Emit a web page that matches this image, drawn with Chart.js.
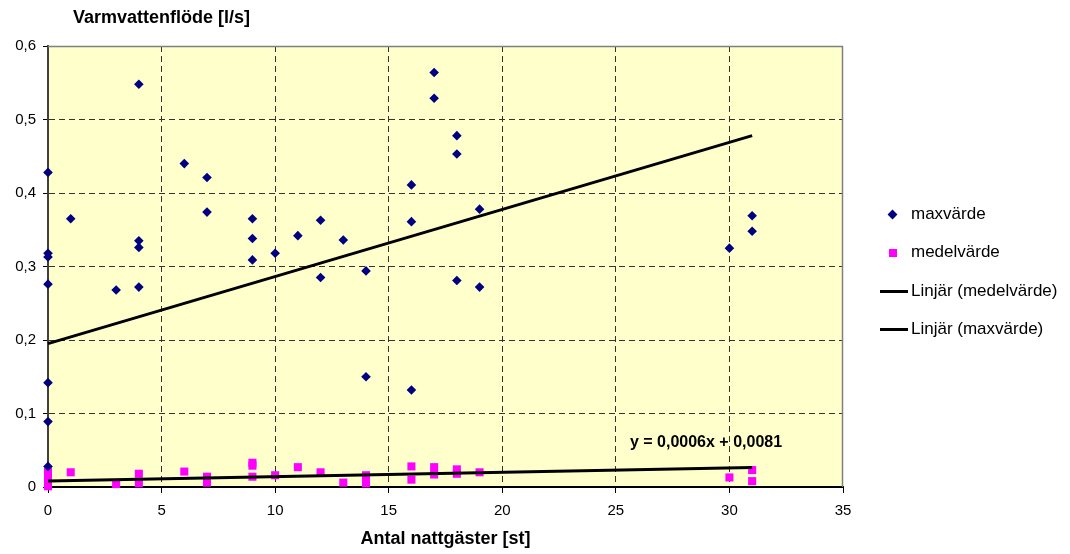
<!DOCTYPE html>
<html>
<head>
<meta charset="utf-8">
<script src="https://cdn.jsdelivr.net/npm/chart.js@4"></script>
<style>
  body { margin: 0; background: #fff; }
  #wrap { position: relative; width: 1070px; height: 554px; font-family: "Liberation Sans", Arial, sans-serif; }
  canvas { position: absolute; left: 0; top: 0; }
  .leg { position: absolute; left: 911px; font-size: 17px; color: #000; line-height: 20px; white-space: nowrap; }
  .mk { position: absolute; }
</style>
</head>
<body>
<div id="wrap">
  <canvas id="chart" width="1070" height="554"></canvas>
  <div class="mk" style="left:889px;top:211px;width:7px;height:7px;background:#000080;transform:rotate(45deg);"></div>
  <div class="leg" style="top:204px;">maxvärde</div>
  <div class="mk" style="left:889px;top:249px;width:8px;height:8px;background:#ff00ff;"></div>
  <div class="leg" style="top:242px;">medelvärde</div>
  <div class="mk" style="left:880px;top:290px;width:28px;height:3px;background:#000;"></div>
  <div class="leg" style="top:281px;">Linjär (medelvärde)</div>
  <div class="mk" style="left:880px;top:328px;width:28px;height:3px;background:#000;"></div>
  <div class="leg" style="top:319px;">Linjär (maxvärde)</div>
</div>
<script>
  // maxvärde (diamonds)
  const maxX = [0, 0, 0, 0, 0, 0, 0, 1, 3, 4, 4, 4, 4, 6, 7, 7, 9, 9, 9, 10, 11, 12, 12, 13, 14, 14, 16, 16, 16, 17, 17, 18, 18, 18, 19, 19, 30, 31, 31];
  const maxY = [0.428, 0.318, 0.313, 0.276, 0.142, 0.089, 0.028, 0.365, 0.268, 0.548, 0.335, 0.326, 0.272, 0.440, 0.421, 0.374, 0.365, 0.338, 0.309, 0.318, 0.342, 0.363, 0.285, 0.336, 0.294, 0.150, 0.411, 0.361, 0.132, 0.564, 0.529, 0.478, 0.453, 0.281, 0.378, 0.272, 0.325, 0.369, 0.348];

  // medelvärde (squares)
  const medelX = [0, 0, 0, 0, 1, 3, 4, 4, 6, 7, 7, 9, 9, 9, 10, 11, 12, 13, 14, 14, 14, 16, 16, 17, 17, 18, 18, 19, 30, 31, 31];
  const medelY = [0.021, 0.014, 0.007, 0.001, 0.020, 0.004, 0.018, 0.005, 0.021, 0.014, 0.006, 0.033, 0.029, 0.014, 0.016, 0.027, 0.020, 0.006, 0.016, 0.010, 0.005, 0.028, 0.010, 0.027, 0.017, 0.024, 0.018, 0.020, 0.013, 0.023, 0.008];

  // trendlines (endpoints)
  const trendX = [0, 31];
  const maxTrendY = [0.195, 0.478];
  const medelTrendY = [0.0081, 0.0267];
  const equationText = "y = 0,0006x + 0,0081";

  const yTitle = "Varmvattenflöde [l/s]";
  const xTitle = "Antal nattgäster [st]";

  const FONT = "'Liberation Sans', Arial, sans-serif";

  function pts(xs, ys) {
    return xs.map((x, i) => ({ x: x, y: ys[i] }));
  }

  const plotDecor = {
    id: "plotDecor",
    beforeDraw(chart) {
      const a = chart.chartArea;
      const ctx = chart.ctx;
      ctx.save();
      ctx.fillStyle = "#ffffcc";
      ctx.fillRect(a.left, a.top, a.right - a.left, a.bottom - a.top);
      ctx.restore();
    },
    afterDraw(chart) {
      const a = chart.chartArea;
      const ctx = chart.ctx;
      ctx.save();
      ctx.strokeStyle = "#808080";
      ctx.lineWidth = 1.5;
      ctx.beginPath();
      ctx.moveTo(a.left, a.top + 0.5);
      ctx.lineTo(a.right - 0.5, a.top + 0.5);
      ctx.lineTo(a.right - 0.5, a.bottom);
      ctx.stroke();

      ctx.fillStyle = "#000";
      ctx.font = "bold 18px " + FONT;
      ctx.textBaseline = "middle";
      ctx.textAlign = "left";
      ctx.fillText(yTitle, 73, 18);

      ctx.font = "bold 16px " + FONT;
      ctx.textAlign = "center";
      ctx.fillText(equationText, 706, 443);
      ctx.restore();
    }
  };

  const edgeless = (max) => (c) => (c.tick && (c.tick.value === 0 || c.tick.value === max)) ? "rgba(0,0,0,0)" : "#333";

  new Chart(document.getElementById("chart").getContext("2d"), {
    type: "scatter",
    data: {
      datasets: [
        {
          label: "Linjär (medelvärde)",
          data: pts(trendX, medelTrendY),
          showLine: true,
          borderColor: "#000",
          borderWidth: 3,
          pointRadius: 0,
          clip: false,
          order: 0
        },
        {
          label: "Linjär (maxvärde)",
          data: pts(trendX, maxTrendY),
          showLine: true,
          borderColor: "#000",
          borderWidth: 3,
          pointRadius: 0,
          clip: false,
          order: 0
        },
        {
          label: "medelvärde",
          data: pts(medelX, medelY),
          pointStyle: "rect",
          pointRadius: 5.7,
          backgroundColor: "#ff00ff",
          borderColor: "#ff00ff",
          borderWidth: 0,
          clip: false,
          order: 2
        },
        {
          label: "maxvärde",
          data: pts(maxX, maxY),
          pointStyle: "rectRot",
          pointRadius: 4.8,
          backgroundColor: "#000080",
          borderColor: "#000080",
          borderWidth: 0,
          clip: false,
          order: 1
        }
      ]
    },
    options: {
      responsive: false,
      animation: false,
      devicePixelRatio: 1,
      layout: { padding: { top: 46, right: 227, bottom: 0, left: 0 } },
      plugins: {
        legend: { display: false },
        tooltip: { enabled: false }
      },
      scales: {
        x: {
          type: "linear",
          min: 0,
          max: 35,
          afterFit: (s) => { s.height = 67; },
          ticks: {
            stepSize: 5,
            padding: 9,
            color: "#000",
            font: { family: FONT, size: 15 }
          },
          grid: {
            color: edgeless(35),
            tickColor: "#000",
            tickLength: 6,
            tickBorderDash: []
          },
          border: { color: "#000", width: 2, dash: [6, 4] },
          title: {
            display: true,
            text: xTitle,
            color: "#000",
            font: { family: FONT, size: 18, weight: "bold" },
            padding: { top: 0, bottom: 4 }
          }
        },
        y: {
          min: 0,
          max: 0.6,
          afterFit: (s) => { s.width = 48; },
          ticks: {
            stepSize: 0.1,
            padding: 7,
            color: "#000",
            font: { family: FONT, size: 15 },
            callback: (v) => v === 0 ? "0" : v.toFixed(1).replace(".", ",")
          },
          grid: {
            color: edgeless(0.6),
            tickColor: "#000",
            tickLength: 5,
            tickBorderDash: []
          },
          border: { color: "#404040", width: 2, dash: [6, 4] }
        }
      }
    },
    plugins: [plotDecor]
  });
</script>
</body>
</html>
